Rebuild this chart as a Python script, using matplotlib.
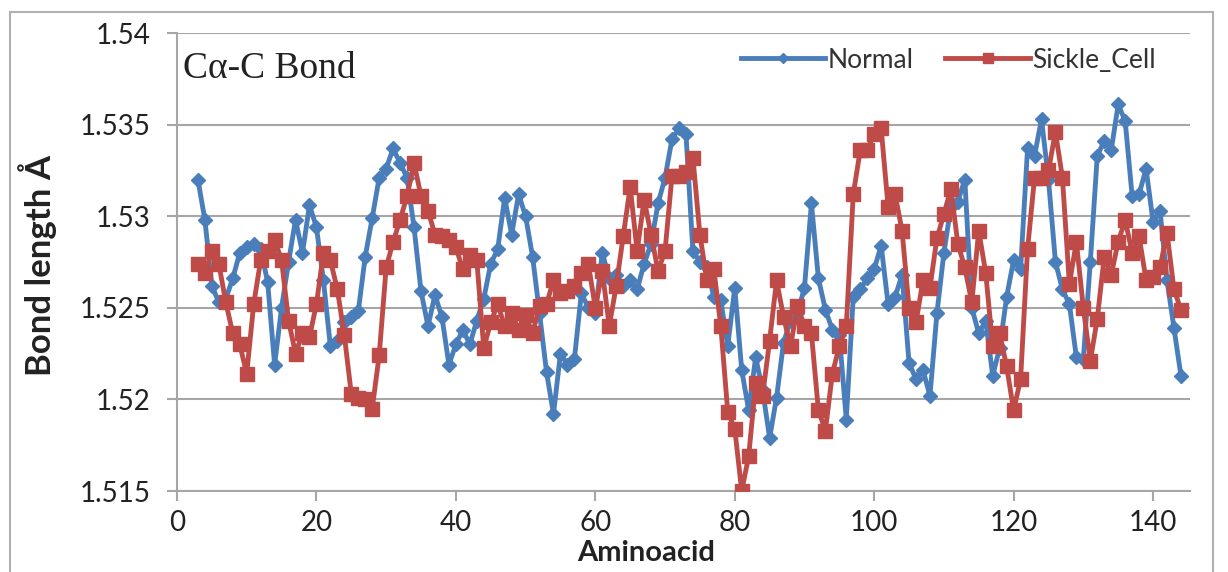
import matplotlib
matplotlib.use("Agg")
import matplotlib.pyplot as plt
from matplotlib.patches import Rectangle

aminoacid = list(range(3, 145))

normal = [1.5320, 1.5298, 1.5262, 1.5253, 1.5255, 1.5266, 1.5280, 1.5283, 1.5285, 1.5282,
          1.5264, 1.5219, 1.5250, 1.5275, 1.5298, 1.5280, 1.5306, 1.5294, 1.5265, 1.5229,
          1.5232, 1.5242, 1.5245, 1.5248, 1.5278, 1.5299, 1.5321, 1.5326, 1.5337, 1.5329,
          1.5321, 1.5294, 1.5259, 1.5240, 1.5257, 1.5245, 1.5219, 1.5230, 1.5238, 1.5230,
          1.5243, 1.5255, 1.5274, 1.5282, 1.5310, 1.5290, 1.5312, 1.5300, 1.5278, 1.5247,
          1.5215, 1.5192, 1.5225, 1.5219, 1.5222, 1.5258, 1.5250, 1.5247, 1.5280, 1.5266,
          1.5268, 1.5262, 1.5265, 1.5260, 1.5274, 1.5285, 1.5307, 1.5321, 1.5342, 1.5348,
          1.5345, 1.5281, 1.5275, 1.5272, 1.5256, 1.5254, 1.5229, 1.5261, 1.5216, 1.5194,
          1.5223, 1.5205, 1.5179, 1.5201, 1.5231, 1.5243, 1.5247, 1.5261, 1.5307, 1.5266,
          1.5249, 1.5238, 1.5235, 1.5189, 1.5256, 1.5260, 1.5266, 1.5271, 1.5284, 1.5252,
          1.5256, 1.5268, 1.5220, 1.5211, 1.5216, 1.5202, 1.5247, 1.5280, 1.5305, 1.5308,
          1.5320, 1.5250, 1.5236, 1.5243, 1.5213, 1.5228, 1.5256, 1.5276, 1.5271, 1.5337,
          1.5333, 1.5353, 1.5320, 1.5275, 1.5260, 1.5252, 1.5223, 1.5222, 1.5275, 1.5333,
          1.5341, 1.5336, 1.5361, 1.5352, 1.5311, 1.5312, 1.5326, 1.5297, 1.5303, 1.5265,
          1.5239, 1.5213]

sickle = [1.5274, 1.5269, 1.5281, 1.5274, 1.5253, 1.5236, 1.5230, 1.5214, 1.5252, 1.5276,
          1.5281, 1.5287, 1.5276, 1.5243, 1.5225, 1.5236, 1.5234, 1.5252, 1.5280, 1.5276,
          1.5260, 1.5235, 1.5203, 1.5201, 1.5200, 1.5195, 1.5224, 1.5272, 1.5286, 1.5298,
          1.5311, 1.5329, 1.5311, 1.5303, 1.5290, 1.5289, 1.5287, 1.5283, 1.5271, 1.5279,
          1.5276, 1.5228, 1.5242, 1.5252, 1.5240, 1.5247, 1.5238, 1.5246, 1.5236, 1.5251,
          1.5252, 1.5265, 1.5258, 1.5259, 1.5262, 1.5269, 1.5274, 1.5250, 1.5270, 1.5240,
          1.5262, 1.5289, 1.5316, 1.5281, 1.5309, 1.5290, 1.5270, 1.5281, 1.5322, 1.5322,
          1.5324, 1.5332, 1.5290, 1.5265, 1.5271, 1.5240, 1.5193, 1.5184, 1.5150, 1.5169,
          1.5209, 1.5202, 1.5232, 1.5265, 1.5245, 1.5229, 1.5251, 1.5240, 1.5236, 1.5194,
          1.5183, 1.5214, 1.5229, 1.5240, 1.5312, 1.5336, 1.5336, 1.5345, 1.5348, 1.5305,
          1.5312, 1.5292, 1.5250, 1.5242, 1.5265, 1.5261, 1.5288, 1.5301, 1.5315, 1.5285,
          1.5272, 1.5253, 1.5292, 1.5269, 1.5229, 1.5236, 1.5218, 1.5194, 1.5211, 1.5282,
          1.5321, 1.5321, 1.5325, 1.5346, 1.5321, 1.5263, 1.5286, 1.5250, 1.5221, 1.5244,
          1.5278, 1.5268, 1.5286, 1.5298, 1.5280, 1.5289, 1.5265, 1.5267, 1.5272, 1.5291,
          1.5260, 1.5249]

xticks = [0, 20, 40, 60, 80, 100, 120, 140]
yticks = [1.515, 1.52, 1.525, 1.53, 1.535, 1.54]
ytick_labels = ["1.515", "1.52", "1.525", "1.53", "1.535", "1.54"]

blue = "#4A7EBB"
red = "#BE4B48"
grid = "#A6A6A6"

plt.rcParams["font.family"] = ["Lato", "DejaVu Sans"]

fig = plt.figure(figsize=(12.28, 5.72), dpi=100)
fig.patches.append(Rectangle((10 / 1228, -0.05), 1203 / 1228, 1 - 12 / 572 + 0.05,
                             transform=fig.transFigure, fill=False,
                             edgecolor="#B0B0B0", linewidth=1.5))

ax = fig.add_axes([177 / 1228, 1 - 491 / 572, (1190 - 177) / 1228, (491 - 33) / 572])

ax.plot(aminoacid, normal, color=blue, linewidth=3.5, marker="D", markersize=7,
        label="Normal", zorder=3)
ax.plot(aminoacid, sickle, color=red, linewidth=3.5, marker="s", markersize=9.5,
        label="Sickle_Cell", zorder=4)

ax.set_xlim(0, 145.3)
ax.set_ylim(1.515, 1.54)
ax.set_xticks(xticks)
ax.set_yticks(yticks)
ax.set_yticklabels(ytick_labels)
ax.tick_params(axis="both", colors=grid, labelcolor="#222222", labelsize=20,
               length=7, width=1.5, direction="out")
ax.tick_params(axis="y", pad=12)
ax.tick_params(axis="x", pad=7)

ax.yaxis.grid(True, color=grid, linewidth=1.5, zorder=0)
ax.set_axisbelow(True)
for side in ["top", "right"]:
    ax.spines[side].set_visible(False)
for side in ["left", "bottom"]:
    ax.spines[side].set_color(grid)
    ax.spines[side].set_linewidth(1.5)

ax.text(0.006, 0.96, "C\u03b1-C Bond", transform=ax.transAxes, ha="left", va="top",
        fontsize=27, family=["Liberation Serif", "DejaVu Serif"], color="#222222")

leg = ax.legend(loc="upper right", bbox_to_anchor=(0.99, 1.02), ncol=2, frameon=False,
                fontsize=19, handlelength=3.2, columnspacing=1.2, handletextpad=0.1,
                markerscale=0.7)
for t in leg.get_texts():
    t.set_color("#333333")

fig.text(646 / 1228, 1 - 553 / 572, "Aminoacid", ha="center", va="center",
         fontsize=21, fontweight="bold", color="#222222")
fig.text(38 / 1228, 1 - 265 / 572, "Bond length \u00c5", ha="center", va="center",
         rotation=90, fontsize=25, fontweight="bold", color="#222222")

fig.savefig("out.png", dpi=100)
